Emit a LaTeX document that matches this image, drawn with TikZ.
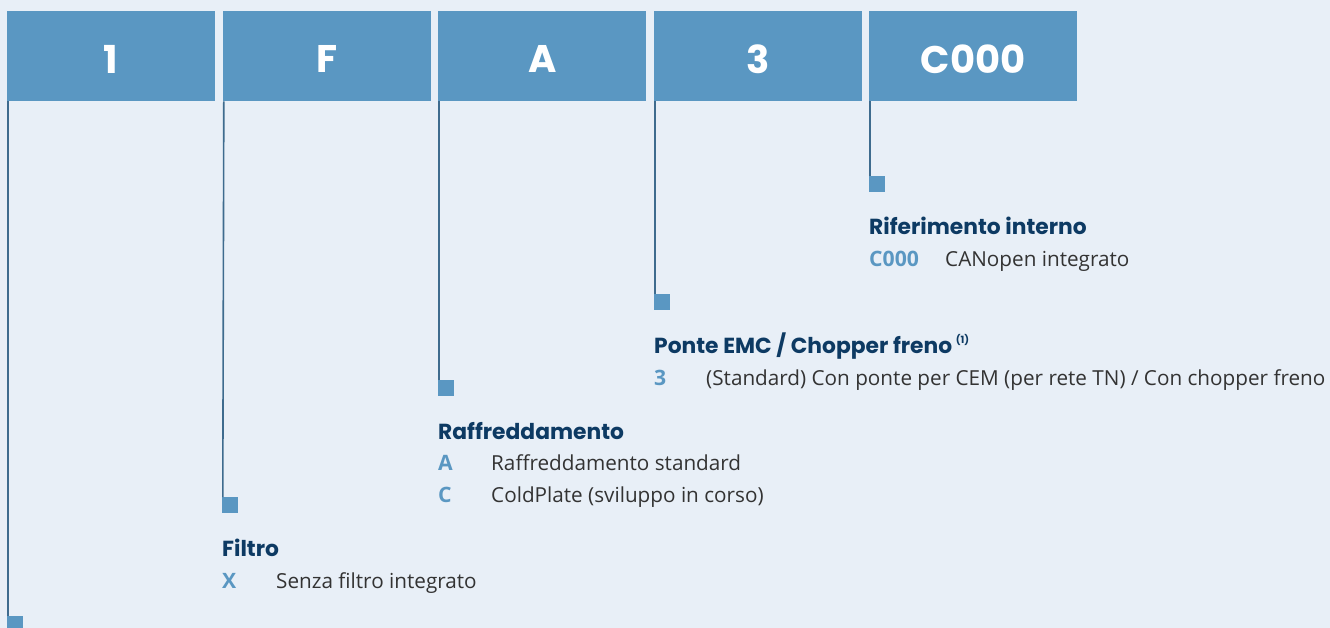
\documentclass[tikz,border=0pt]{standalone}
\usepackage{fontspec}
\setmainfont{Open Sans}
\newfontfamily\hf{Poppins}
\definecolor{bg}{HTML}{E8EFF7}
\definecolor{boxc}{HTML}{5A97C2}
\definecolor{linec}{HTML}{3E6B8E}
\definecolor{navy}{HTML}{0D3A63}
\definecolor{txt}{HTML}{333333}
\tikzset{
  codebox/.style={fill=boxc, minimum width=208pt, minimum height=90pt, inner sep=0, anchor=north west, text=white, font=\hf\bfseries\fontsize{38.5}{38.5}\selectfont},
  marker/.style={fill=boxc, minimum size=16pt, inner sep=0, anchor=north west},
  conn/.style={draw=linec, line width=1.6pt},
  head/.style={anchor=base west, inner sep=0, text=navy, font=\hf\bfseries\fontsize{21.8}{21.8}\selectfont},
  code/.style={anchor=base west, inner sep=0, text=boxc, font=\bfseries\fontsize{21.2}{21.2}\selectfont},
  desc/.style={anchor=base west, inner sep=0, text=txt, font=\fontsize{20.7}{20.7}\selectfont},
  lbl/.style={text=white, font=\hf\bfseries\fontsize{38.5}{38.5}\selectfont, inner sep=0},
}
\begin{document}
\begin{tikzpicture}[x=1pt,y=-1pt]
\fill[bg] (0,0) rectangle (1330,628);
\useasboundingbox (0,0) rectangle (1330,628);
% boxes
\node[codebox] (b1) at (7,11) {};
\node[codebox] (b2) at (223,11) {};
\node[codebox] (b3) at (438,11) {};
\node[codebox] (b4) at (654,11) {};
\node[codebox] (b5) at (869,11) {};
\foreach \i/\t in {1/1,2/F,3/A,4/3,5/C000}{
  \node[lbl] (l\i) at ([yshift=-3pt]b\i.center) {\t};
}
% markers
\node[marker] (s1) at (7,616) {};
\node[marker] (s2) at (222,497) {};
\node[marker] (s3) at (438,380) {};
\node[marker] (s4) at (654,294) {};
\node[marker] (s5) at (869,176) {};
% connectors
\foreach \i in {1,...,5}{
  \draw[conn] ([xshift=0.8pt]b\i.south west) -- ([xshift=0.8pt]s\i.north west);
}
% group 5
\node[head] (h5) at (869,235) {Riferimento interno};
\node[code] (c5a) at (869,267) {C000};
\node[desc] (d5a) at (945,267) {CANopen integrato};
% group 4
\node[head] (h4) at (654,353) {Ponte EMC / Chopper freno\,\raisebox{0.42em}{\fontsize{10}{10}\selectfont (1)}};
\node[code] (c4a) at (654,385) {3};
\node[desc] (d4a) at (706,385) {(Standard) Con ponte per CEM (per rete TN) / Con chopper freno};
% group 3
\node[head] (h3) at (438,439) {Raffreddamento};
\node[code] (c3a) at (438,470) {A};
\node[desc] (d3a) at (491,470) {Raffreddamento standard};
\node[code] (c3b) at (438,502) {C};
\node[desc] (d3b) at (491,502) {ColdPlate (sviluppo in corso)};
% group 2
\node[head] (h2) at (222,556) {Filtro};
\node[code] (c2a) at (222,588) {X};
\node[desc] (d2a) at (276,588) {Senza filtro integrato};
\end{tikzpicture}
\end{document}
